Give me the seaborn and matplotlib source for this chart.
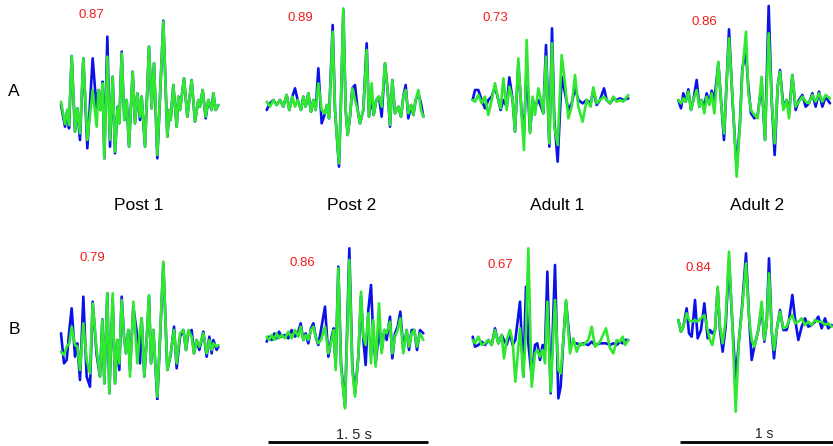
import numpy as np
import pandas as pd
import matplotlib
matplotlib.use("Agg")
import matplotlib.pyplot as plt
import seaborn as sns

sns.set_theme(style="white")
plt.rcParams['font.family'] = ['Liberation Sans', 'DejaVu Sans']

W, H = 833, 446

# ---------------- data (t = sample position, amplitudes in arbitrary units) -------------
titles = ["Post 1", "Post 2", "Adult 1", "Adult 2"]
rows = ["A", "B"]
corr_A = ["0.87", "0.89", "0.73", "0.86"]
corr_B = ["0.79", "0.86", "0.67", "0.84"]
scale_labels = ["1. 5 s", "1 s"]

t_A_post1 = [33,45,52,57,65,75,82,90,100,112,
             128,140,145,152,158,163,172,180,188,195,
             203,208,215,223,230,237,248,255,262,270,
             275,285,297,305,312,322,340,352,358,362,
             370,380,385,390,402,412,425,435,445,450,
             458,467,475,485,490,497,505]
green_A_post1 = [10,-57,-15,-60,147,-80,-10,-85,140,-105,
                 45,-65,45,-15,65,-160,145,-105,85,-140,
                 -5,-55,155,-45,15,-125,100,-55,35,-35,
                 25,-125,175,-10,125,-150,250,-95,-15,-45,
                 60,-65,25,-15,80,-35,75,-50,15,-5,
                 45,-35,15,-15,35,-15,0]
blue_A_post1 = [0,-65,-15,-70,147,-80,-10,-105,140,-130,
                140,-15,45,-15,70,-160,205,-125,85,-145,
                -5,-55,160,-45,15,-125,100,-55,35,-45,
                25,-125,175,-10,125,-160,253,-95,-15,-45,
                60,-65,25,-15,80,-35,75,-50,15,-5,
                45,-40,15,-15,35,-15,0]

t_A_post2 = [35,45,55,65,75,85,95,103,112,120,
             128,138,145,152,160,168,175,182,190,200,
             210,216,222,233,240,245,252,258,265,272,
             278,285,292,300,308,315,325,335,342,350,
             356,364,372,380,390,398,405,412,420,430,
             438,445,452,460,468,475,482,490,498,505]
green_A_post2 = [13,-2,18,3,18,-2,33,-12,28,-2,
                 18,-12,28,-2,38,-17,18,-12,68,-12,
                 -22,3,-37,223,-12,-82,-172,18,293,-12,
                 -87,-32,53,18,-12,-52,-12,168,-32,68,
                 -27,18,28,-2,128,48,-57,78,-22,-2,
                 -32,28,48,-22,3,-27,18,48,-12,-32]
blue_A_post2 = [-12,8,18,3,18,-2,33,-12,28,53,
                18,-12,28,-2,38,-17,18,-12,113,-52,
                -22,3,-37,243,-12,-82,-182,18,288,-12,
                -87,-32,53,63,-12,-52,-12,188,-32,28,
                -27,18,28,-32,128,48,-62,78,-22,-2,
                -32,28,63,-37,3,-27,18,38,8,-32]

t_A_adult1 = [38,45,55,65,75,85,95,105,115,122,
              130,140,148,158,165,175,185,192,200,210,
              218,225,235,243,250,258,268,276,283,293,
              305,315,325,335,345,355,368,380,392,400,
              410,420,432,440,450,460,470,480,490,505]
green_A_adult1 = [0,-5,15,-10,10,-45,0,50,0,-25,
                  65,-30,40,0,-95,125,-50,-150,180,-100,
                  10,-45,35,0,-40,130,-130,170,-80,-135,
                  135,50,-55,-20,75,-20,-65,0,-20,38,
                  -10,0,10,0,-10,10,-5,0,-5,15]
blue_A_adult1 = [0,30,30,0,-25,0,10,40,0,-30,
                 0,-20,68,0,-95,110,-40,-100,100,-95,
                 0,-20,0,-20,-40,165,-140,215,-60,-185,
                 70,20,-30,-10,35,0,-10,0,-10,30,
                 -15,0,35,0,-10,5,0,5,0,5]

t_A_adult2 = [40,48,55,62,70,78,85,95,103,110,
              118,125,133,140,148,160,168,177,192,203,
              215,225,232,243,250,258,268,278,290,300,
              311,320,329,338,345,355,365,372,382,392,
              402,412,422,432,442,452,462,472,482,495]
green_A_adult2 = [0,-10,5,-5,25,-30,0,30,-20,0,
                  -40,10,-15,20,-40,115,-5,-100,185,0,
                  -230,-70,85,205,20,-30,-45,-55,70,-120,
                  200,0,-130,40,85,-30,0,-55,75,-20,
                  -5,10,-5,-10,15,-5,20,-5,15,5]
blue_A_adult2 = [0,-25,20,-5,32,-30,0,60,-20,0,
                 -20,20,-10,28,0,110,0,-120,212,-10,
                 -205,-65,95,140,40,-40,-55,-45,50,-120,
                 282,0,-165,40,90,-20,0,-40,75,-30,
                 0,15,-20,-10,20,-20,25,-20,10,-10]

t_B_post1 = [33,42,50,58,65,75,82,90,100,110,
             120,128,140,150,157,163,172,178,188,195,
             202,208,215,222,228,235,240,250,262,270,
             275,283,290,297,303,310,322,340,352,362,
             372,380,390,400,408,415,425,432,440,448,
             460,470,478,485,490,500,505]
green_B_post1 = [-25,-35,-10,0,50,-5,-10,-80,60,-50,
                 -90,120,-20,-100,70,-120,150,-150,150,-120,
                 10,-60,130,20,-30,40,-100,125,-60,40,
                 75,-100,10,145,-60,40,-160,245,-80,-30,
                 40,-60,30,40,-20,40,20,-30,10,-10,
                 30,-30,10,-20,0,-10,-5]
blue_B_post1 = [30,-60,-50,40,105,-40,0,-110,140,-100,
                -130,125,-35,-100,72,-120,150,-150,135,-120,
                10,-80,140,20,-30,40,-80,110,20,-60,
                75,-100,10,140,-60,40,-170,240,-80,-35,
                50,-75,20,40,-20,30,40,-30,10,-20,
                35,-40,20,-30,10,-20,-10]

t_B_post2 = [35,42,50,58,65,72,80,90,100,110,
             120,130,137,145,152,160,168,175,182,190,
             198,210,220,230,236,242,250,258,270,283,
             292,300,310,318,325,332,340,348,355,362,
             372,380,388,395,405,412,420,428,436,445,
             455,462,470,478,486,495,505]
green_B_post2 = [5,-5,10,-5,15,0,10,0,20,0,
                 25,5,35,-5,10,-5,25,35,5,-15,
                 -5,35,-45,-5,25,-95,210,-85,-210,235,
                 -95,-175,-55,140,5,-20,75,-75,55,-85,
                 105,-45,25,15,50,-45,5,25,60,-45,
                 25,-25,15,25,-25,15,-5]
blue_B_post2 = [-10,5,-5,15,0,20,5,10,0,25,
                5,20,45,-5,15,-15,30,45,5,-20,
                25,95,-55,5,30,-85,215,-75,-205,270,
                -85,-165,-55,125,-5,-80,85,160,5,-75,
                25,-35,25,-5,65,-60,15,35,80,-35,
                25,-35,25,25,-35,25,15]

t_B_adult1 = [38,45,55,65,75,85,95,105,115,125,
              132,140,150,158,166,180,190,198,205,215,
              225,232,240,248,255,262,272,285,295,302,
              310,318,330,340,350,360,370,385,395,405,
              420,438,450,460,470,480,488,495,505]
green_B_adult1 = [5,-5,15,-10,-5,5,-10,35,-5,20,
                  -50,5,35,0,-120,40,-105,35,280,-135,
                  -35,-25,-45,-25,-65,120,-150,125,-85,-95,
                  5,125,-35,10,-30,-5,-10,5,45,-15,
                  0,40,-20,-35,5,0,15,-10,5]
blue_B_adult1 = [15,-15,-10,0,-10,5,-10,40,-5,20,
                 5,-10,25,-10,5,120,-105,165,-5,-105,
                 -10,-5,-55,-10,-25,210,-155,230,-170,-135,
                 5,120,-5,-5,-5,-10,-5,-10,0,-10,
                 -5,-5,-10,-5,-10,0,-5,5,5]

t_B_adult2 = [40,48,55,65,72,80,90,98,108,118,
              128,135,142,150,158,165,173,182,192,202,
              212,222,232,243,252,260,268,280,290,298,
              305,312,320,327,335,345,355,365,372,382,
              390,400,410,420,430,440,450,460,470,480,
              490,500]
green_B_adult2 = [0,-35,-20,20,0,-5,0,-5,5,15,
                  -30,-60,-75,-30,100,-20,-70,0,205,-10,
                  -275,-60,40,170,10,-60,-80,-30,55,-60,
                  -10,140,-30,-90,-30,25,-25,-20,0,15,
                  -10,-5,5,-15,-5,-15,0,-5,-5,-15,
                  -10,-20]
blue_B_adult2 = [0,-35,-20,35,-40,-50,60,-55,-30,50,
                 -55,-30,-40,-30,95,-30,-95,-20,180,-10,
                 -180,-60,50,200,10,-120,-80,-30,40,-65,
                 -10,185,-30,-115,-30,30,-30,-30,0,75,
                 5,-60,-20,5,-20,-15,-5,10,-25,5,
                 -25,-15]

# ---------------- layout -------------
BLUE = "#0a12e8"
GREEN = "#2fe82f"
RED = "#f21b1b"

# panel boxes in figure pixels: (left, top, width, height, amp_top, amp_bottom)
panels = [
    (t_A_post1, blue_A_post1, green_A_post1, (50, 0, 180, 170, 315, -195)),
    (t_A_post2, blue_A_post2, green_A_post2, (255, 0, 180, 170, 318, -192)),
    (t_A_adult1, blue_A_adult1, green_A_adult1, (460, 0, 180, 170, 300, -210)),
    (t_A_adult2, blue_A_adult2, green_A_adult2, (665, 0, 168, 190, 300, -270)),
    (t_B_post1, blue_B_post1, green_B_post1, (50, 230, 180, 170, 340, -170)),
    (t_B_post2, blue_B_post2, green_B_post2, (255, 230, 180, 216, 325, -323)),
    (t_B_adult1, blue_B_adult1, green_B_adult1, (460, 230, 180, 170, 335, -175)),
    (t_B_adult2, blue_B_adult2, green_B_adult2, (665, 230, 168, 216, 270, -378)),
]

fig = plt.figure(figsize=(W / 100, H / 100), dpi=100)
fig.patch.set_facecolor("white")

for t, b, g, (left, top, w, h, a_top, a_bot) in panels:
    ax = fig.add_axes([left / W, 1 - (top + h) / H, w / W, h / H])
    df = pd.DataFrame({"t": t, "blue": b, "green": g})
    sns.lineplot(data=df, x="t", y="blue", ax=ax, color=BLUE, lw=1.9,
                 estimator=None, sort=False, solid_joinstyle="round",
                 solid_capstyle="round")
    sns.lineplot(data=df, x="t", y="green", ax=ax, color=GREEN, lw=1.9,
                 estimator=None, sort=False, solid_joinstyle="round",
                 solid_capstyle="round")
    ax.set_xlim(0, w * 3)
    ax.set_ylim(a_bot, a_top)
    ax.axis("off")

# overlay for text and scale bars (figure pixel coordinates)
ov = fig.add_axes([0, 0, 1, 1], facecolor="none")
ov.set_xlim(0, W)
ov.set_ylim(H, 0)
ov.axis("off")

for txt, x in zip(titles, [139, 352, 557, 757]):
    ov.text(x, 205, txt, ha="center", va="center", fontsize=12.5, color="black")
for txt, y in zip(rows, [92, 330]):
    ov.text(14, y, txt, ha="center", va="center", fontsize=12.5, color="black")
for txt, (x, y) in zip(corr_A, [(91, 15), (300, 18), (495, 18), (704, 22)]):
    ov.text(x, y, txt, ha="center", va="center", fontsize=9.5, color=RED)
for txt, (x, y) in zip(corr_B, [(92, 258), (302, 263), (500, 265), (698, 268)]):
    ov.text(x, y, txt, ha="center", va="center", fontsize=9.5, color=RED)

ov.plot([268, 428], [442, 442], color="black", lw=2, solid_capstyle="butt")
ov.plot([680, 833], [442, 442], color="black", lw=2, solid_capstyle="butt")
ov.text(354, 435, scale_labels[0], ha="center", va="center", fontsize=10.5)
ov.text(764, 434, scale_labels[1], ha="center", va="center", fontsize=10)

fig.savefig("out.png", dpi=100, facecolor="white")
